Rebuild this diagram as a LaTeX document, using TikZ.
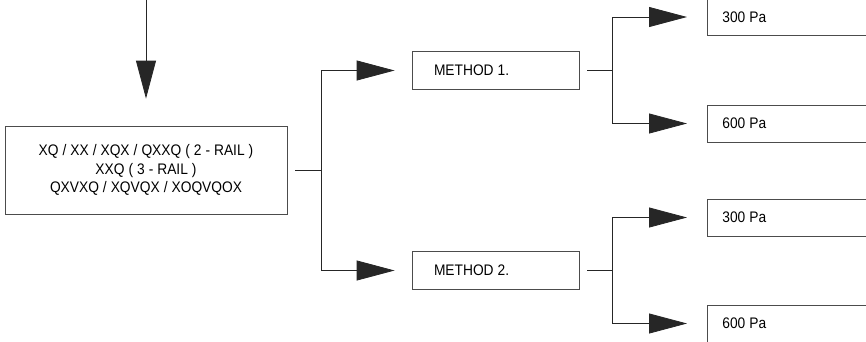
\documentclass[tikz,border=0pt]{standalone}
\usepackage{fontspec}
\setmainfont[FakeStretch=0.9]{Liberation Sans}
\usetikzlibrary{arrows.meta}
\newcommand\diagfont{\fontsize{15.3}{18.5}\selectfont\spaceskip=4pt\xspaceskip=4pt\relax}
\begin{document}
\begin{tikzpicture}[x=1pt,y=-1pt,
  box/.style={draw=black!70, line width=0.8pt, inner ysep=0pt, execute at begin node=\diagfont},
  mbox/.style={box, text width=123pt, align=left, inner xsep=22pt, minimum height=37.5pt},
  pbox/.style={box, text width=170pt, align=left, inner xsep=15pt, minimum height=37pt, anchor=west},
  conn/.style={line width=0.8pt, draw=black!85},
  arr/.style={conn, -{Triangle[length=38pt,width=20pt]}}]
\useasboundingbox (0,0) rectangle (866,341);
\clip (0,0) rectangle (866,341);
\node[box, text width=250pt, align=center, inner xsep=16pt, minimum height=88pt] (main) at (146,170)
  {XQ / XX / XQX / QXXQ ( 2 - RAIL )\\XXQ ( 3 - RAIL )\\QXVXQ / XQVQX / XOQVQOX};
\coordinate (top) at (146,0);
\node[mbox] (m1) at (495.5,70.5) {METHOD 1.};
\node[mbox] (m2) at (495.5,270.5) {METHOD 2.};
\node[pbox] (p1) at (707,17) {300 Pa};
\node[pbox] (p2) at (707,123.5) {600 Pa};
\node[pbox] (p3) at (707,217.5) {300 Pa};
\node[pbox] (p4) at (707,323.5) {600 Pa};
\draw[arr] (top) -- ([yshift=27pt]main.north);
\draw[conn] ([xshift=8pt]main.east) -- ++(26,0) coordinate (b0);
\draw[arr] (b0) |- ([xshift=-17pt]m1.west);
\draw[arr] (b0) |- ([xshift=-17pt]m2.west);
\draw[conn] ([xshift=8pt]m1.east) -- ++(25,0) coordinate (b1);
\draw[arr] (b1) |- ([xshift=-20pt]p1.west);
\draw[arr] (b1) |- ([xshift=-20pt]p2.west);
\draw[conn] ([xshift=8pt]m2.east) -- ++(25,0) coordinate (b2);
\draw[arr] (b2) |- ([xshift=-20pt]p3.west);
\draw[arr] (b2) |- ([xshift=-20pt]p4.west);
\end{tikzpicture}
\end{document}
